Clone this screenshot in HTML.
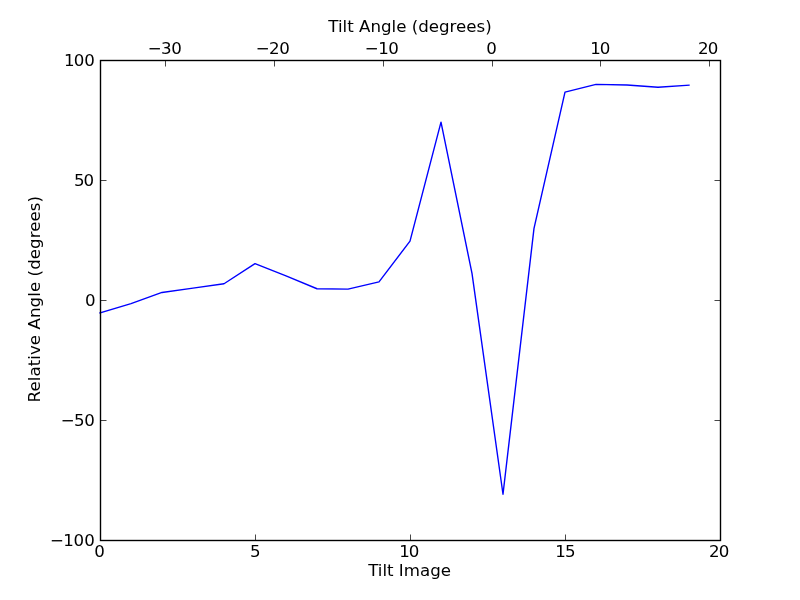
<!DOCTYPE html>
<html><head><meta charset="utf-8"><title>Tilt</title>
<style>
html,body{margin:0;padding:0;background:#fff;}
svg{display:block;}
text{font-family:"DejaVu Sans","Liberation Sans",sans-serif;font-size:16.67px;fill:#000;}
</style></head><body>
<svg xmlns="http://www.w3.org/2000/svg" width="800" height="600" viewBox="0 0 800 600">
<rect width="800" height="600" fill="#fff"/>
<polyline points="100,312.95 131,303.65 162,292.45 193,288.15 224,283.75 255,263.65 286,275.95 317,288.75 348,289.15 379,281.85 410,241.15 441,122.15 472,273.45 503,494.25 534,228.45 565,92.20 596,84.40 627,84.95 658,87.20 689,85.15" fill="none" stroke="#0000ff" stroke-width="1.39" stroke-linejoin="round" stroke-linecap="square"/>
<rect x="100.5" y="60.5" width="620" height="480" fill="none" stroke="#000" stroke-width="1.39"/>
<g stroke="#000" stroke-width="1" stroke-opacity="0.72">
<line x1="100.5" y1="540.5" x2="100.5" y2="534.5"/><line x1="255.5" y1="540.5" x2="255.5" y2="534.5"/><line x1="410.5" y1="540.5" x2="410.5" y2="534.5"/><line x1="565.5" y1="540.5" x2="565.5" y2="534.5"/><line x1="720.5" y1="540.5" x2="720.5" y2="534.5"/><line x1="100.5" y1="60.5" x2="106.5" y2="60.5"/><line x1="720.5" y1="60.5" x2="714.5" y2="60.5"/><line x1="100.5" y1="180.5" x2="106.5" y2="180.5"/><line x1="720.5" y1="180.5" x2="714.5" y2="180.5"/><line x1="100.5" y1="300.5" x2="106.5" y2="300.5"/><line x1="720.5" y1="300.5" x2="714.5" y2="300.5"/><line x1="100.5" y1="420.5" x2="106.5" y2="420.5"/><line x1="720.5" y1="420.5" x2="714.5" y2="420.5"/><line x1="100.5" y1="540.5" x2="106.5" y2="540.5"/><line x1="720.5" y1="540.5" x2="714.5" y2="540.5"/><line x1="165.5" y1="60.5" x2="165.5" y2="66.5"/><line x1="274.5" y1="60.5" x2="274.5" y2="66.5"/><line x1="383.5" y1="60.5" x2="383.5" y2="66.5"/><line x1="492.5" y1="60.5" x2="492.5" y2="66.5"/><line x1="600.5" y1="60.5" x2="600.5" y2="66.5"/><line x1="709.5" y1="60.5" x2="709.5" y2="66.5"/></g>
<text x="63.92 73.63 84.28" y="65.65">100</text>
<text x="73.98 83.43" y="185.65">50</text>
<text x="84.98" y="305.65">0</text>
<text x="60.82 73.98 84.33" y="425.65">−50</text>
<text x="50.07 63.37 73.53 84.18" y="545.65">−100</text>
<text x="94.13" y="556.55">0</text>
<text x="249.88" y="556.55">5</text>
<text x="399.37 408.83" y="556.55">10</text>
<text x="555.22 564.98" y="556.55">15</text>
<text x="708.96 718.83" y="556.55">20</text>
<text x="147.82 160.98 171.33" y="53.65">−30</text>
<text x="255.82 268.96 279.33" y="53.65">−20</text>
<text x="364.82 378.37 388.33" y="53.65">−10</text>
<text x="486.18" y="53.65">0</text>
<text x="590.22 599.83" y="53.65">10</text>
<text x="697.96 707.83" y="53.65">20</text>
<text x="410" y="32" text-anchor="middle">Tilt Angle (degrees)</text>
<text x="409.6" y="576" text-anchor="middle">Tilt Image</text>
<text transform="translate(40,299.15) rotate(-90)" text-anchor="middle" style="letter-spacing:0.06px">Relative Angle (degrees)</text>
</svg></body></html>
